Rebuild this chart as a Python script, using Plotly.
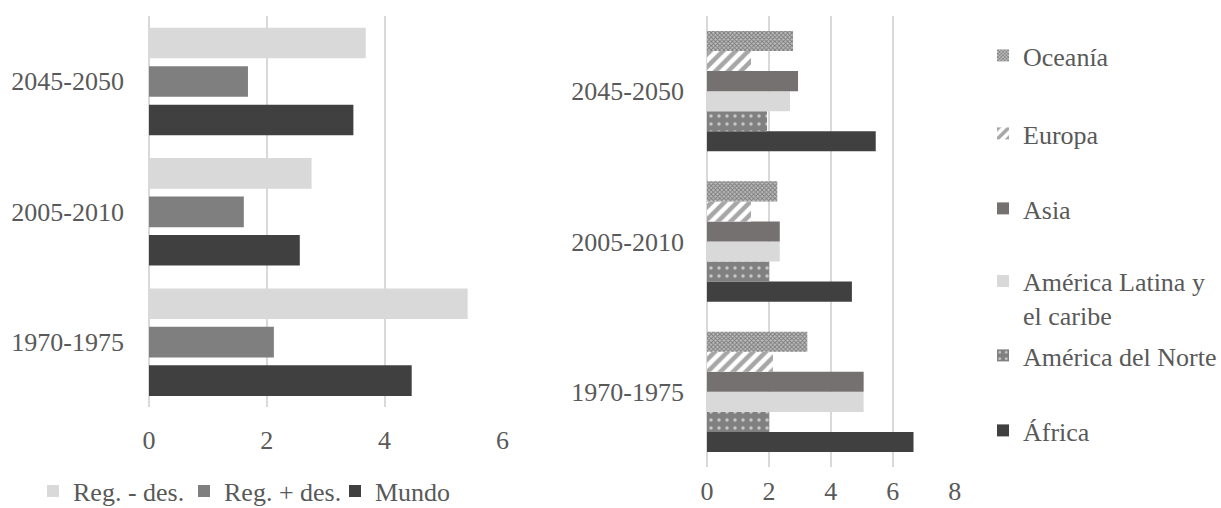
import plotly.graph_objects as go

# ---------------- data ----------------
periods = ["1970-1975", "2005-2010", "2045-2050"]

# left chart
mundo = [4.46, 2.56, 3.47]
reg_mas_des = [2.12, 1.61, 1.68]
reg_menos_des = [5.41, 2.76, 3.68]
left_ticks = [0, 2, 4, 6]

# right chart
africa = [6.67, 4.68, 5.45]
america_norte = [2.00, 2.00, 1.94]
america_latina = [5.06, 2.35, 2.68]
asia = [5.06, 2.35, 2.94]
europa = [2.13, 1.42, 1.42]
oceania = [3.24, 2.27, 2.78]
right_ticks = [0, 2, 4, 6, 8]

# ---------------- styles ----------------
W, H = 1221, 508
FONT = dict(family="Liberation Serif", size=26, color="#595959")
GRID = "#d9d9d9"
GW = 1.6

fig = go.Figure()

# left chart: explicit bar thickness / offsets (style)
LW = 0.235
left_series = [
    ("Mundo", mundo, "#404040", -0.415),
    ("Reg. + des.", reg_mas_des, "#7f7f7f", -0.12),
    ("Reg. - des.", reg_menos_des, "#d9d9d9", 0.175),
]
for name, vals, col, off in left_series:
    fig.add_trace(go.Bar(
        y=periods, x=vals, name=name, orientation="h",
        marker=dict(color=col, line=dict(width=0)),
        width=LW, offset=off,
        xaxis="x", yaxis="y", legend="legend",
    ))

# right chart series; each gets its own legend box (legend2..legend7)
# legend centre (px from top) and vertical alignment
right_series = [
    ("África", africa, dict(color="#404040"), 430.5, "middle"),
    ("América del Norte", america_norte,
     dict(color="#808080", pattern=dict(shape=".", fgcolor="#c8c8c8", bgcolor="#808080",
                                        size=8, solidity=0.15, fillmode="replace")), 355.5, "middle"),
    ("América Latina y<br>el caribe", america_latina, dict(color="#d9d9d9"), 298, "top"),
    ("Asia", asia, dict(color="#767171"), 208.5, "middle"),
    ("Europa", europa,
     dict(color="#a6a6a6", pattern=dict(shape="/", fgcolor="#a6a6a6", bgcolor="#ffffff",
                                        size=9, solidity=0.5, fillmode="replace")), 133.5, "middle"),
    ("Oceanía", oceania,
     dict(color="#a0a0a0", pattern=dict(shape="x", fgcolor="#7a7a7a", bgcolor="#bdbdbd",
                                        size=3, solidity=0.5, fillmode="replace")), 55.5, "middle"),
]
legend_layouts = {}
for i, (name, vals, mk, ly, valign) in enumerate(right_series):
    mk = dict(mk)
    mk["line"] = dict(width=0)
    lname = "legend%d" % (i + 2)
    fig.add_trace(go.Bar(
        y=periods, x=vals, name=name, orientation="h",
        marker=mk, xaxis="x2", yaxis="y2", legend=lname,
    ))
    legend_layouts[lname] = dict(orientation="v", x=983 / W, xanchor="left",
                                 y=1 - ly / H, yanchor="middle", valign=valign,
                                 font=FONT, bgcolor="rgba(0,0,0,0)")

common_x = dict(showgrid=True, gridcolor=GRID, gridwidth=GW, zeroline=True,
                zerolinecolor=GRID, zerolinewidth=GW, showline=False, ticks="",
                tickfont=FONT, fixedrange=True, automargin=False)
common_y = dict(type="category", categoryorder="array", categoryarray=periods,
                showgrid=False, zeroline=False, showline=False, ticks="",
                tickfont=FONT, fixedrange=True, automargin=False)

fig.update_layout(
    width=W, height=H, autosize=False,
    margin=dict(l=0, r=0, t=0, b=0, autoexpand=False),
    paper_bgcolor="white", plot_bgcolor="white",
    font=FONT,
    barmode="group", bargap=0.2, bargroupgap=0,
    xaxis=dict(domain=[149 / W, 503 / W], anchor="y", range=[0, 6.01],
               tickvals=left_ticks, ticklabelstandoff=15, **common_x),
    yaxis=dict(domain=[(H - 407) / H, (H - 16) / H], anchor="x",
               ticklabelstandoff=24, **common_y),
    xaxis2=dict(domain=[707 / W, 955 / W], anchor="y2", range=[0, 8.01],
                tickvals=right_ticks, ticklabelstandoff=6, **common_x),
    yaxis2=dict(domain=[(H - 467) / H, (H - 16) / H], anchor="x2",
                ticklabelstandoff=22, **common_y),
    legend=dict(orientation="h", x=33 / W, xanchor="left", y=17 / H, yanchor="middle",
                traceorder="reversed", font=FONT, bgcolor="rgba(0,0,0,0)",
                entrywidth=106, entrywidthmode="pixels"),
    showlegend=True,
    **legend_layouts,
)

fig.write_html("out.html", config={"displayModeBar": False},
               post_script="document.body.style.margin='0px';")
